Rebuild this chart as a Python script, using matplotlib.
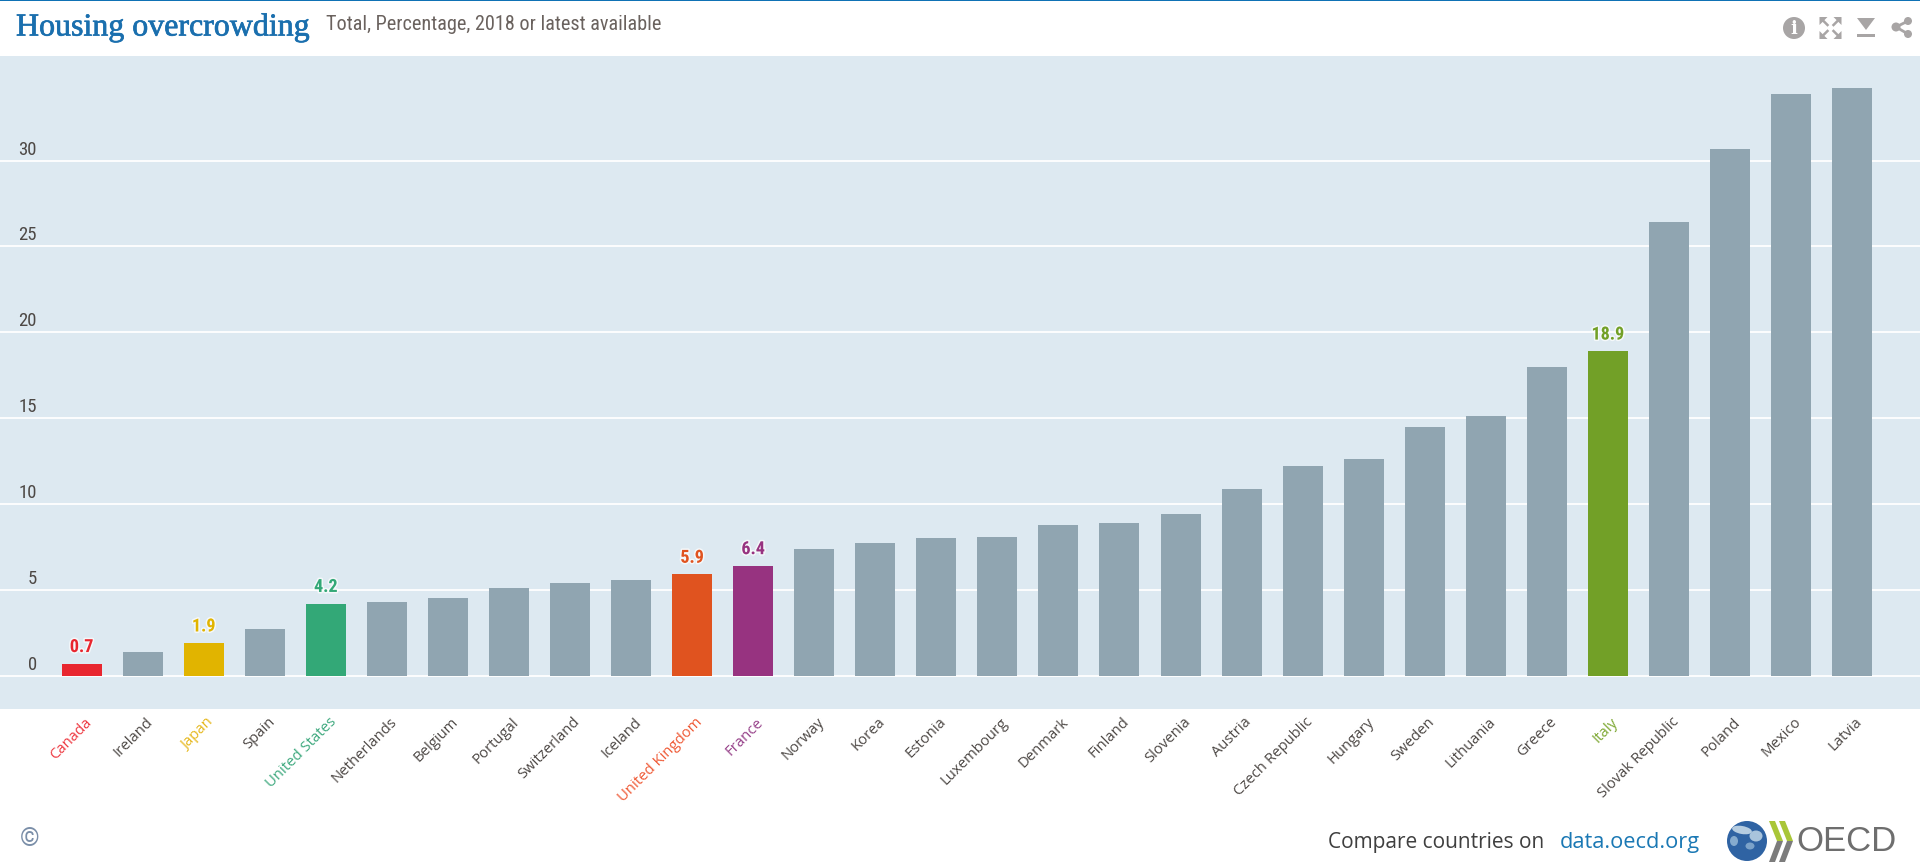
from matplotlib import pyplot as plt
from matplotlib import font_manager as fm
from matplotlib.patches import Circle, Polygon, Rectangle, Ellipse
from matplotlib.transforms import ScaledTranslation
import matplotlib.patheffects as pe


def pick_font(*names):
    # first installed family wins
    for name in names:
        try:
            fm.findfont(name, fallback_to_default=False)
            return name
        except ValueError:
            pass
    return 'DejaVu Sans'


narrow = pick_font('Liberation Sans Narrow', 'Roboto Condensed', 'Liberation Sans')
label_font = pick_font('Open Sans', 'Noto Sans')
title_font = pick_font('Liberation Serif')

countries = ['Canada', 'Ireland', 'Japan', 'Spain', 'United States', 'Netherlands', 'Belgium',
             'Portugal', 'Switzerland', 'Iceland', 'United Kingdom', 'France', 'Norway', 'Korea',
             'Estonia', 'Luxembourg', 'Denmark', 'Finland', 'Slovenia', 'Austria', 'Czech Republic',
             'Hungary', 'Sweden', 'Lithuania', 'Greece', 'Italy', 'Slovak Republic', 'Poland',
             'Mexico', 'Latvia']
values = [0.7, 1.4, 1.9, 2.7, 4.2, 4.3, 4.5, 5.1, 5.4, 5.6, 5.9, 6.4, 7.4, 7.7, 8.0, 8.1, 8.8,
          8.9, 9.4, 10.9, 12.2, 12.6, 14.5, 15.1, 18.0, 18.9, 26.4, 30.7, 33.9, 34.2]
yticks = [0, 5, 10, 15, 20, 25, 30]

highlight = {'Canada': '#e8262f', 'Japan': '#e1b400', 'United States': '#33a877',
             'United Kingdom': '#e0531f', 'France': '#973380', 'Italy': '#72a027'}
text_highlight = {'Canada': '#ee3b43', 'Japan': '#e6b81e', 'United States': '#3fa97f',
                  'United Kingdom': '#ef5a36', 'France': '#97428a', 'Italy': '#7da832'}
BAR_GREY = '#90a5b1'
TEXT_GREY = '#4d4845'

W, H = 1920, 866
fig = plt.figure(figsize=(W / 100, H / 100), dpi=100, facecolor='white')

# panel spans the full width, y 56..709 px
ax = fig.add_axes([0, 1 - 709 / H, 1, (709 - 56) / H], facecolor='#dde9f1')
xpos = list(range(len(countries)))
ax.set_xlim(-81.6 / 61.05, (W - 81.6) / 61.05)
ax.set_ylim((675.7 - 709) / 17.17, (675.7 - 56) / 17.17)

colors = [highlight.get(c, BAR_GREY) for c in countries]
ax.bar(xpos, values, width=40 / 61.05, color=colors, zorder=3)

ax.set_yticks(yticks)
ax.grid(axis='y', color='white', linewidth=1.3, zorder=1)
ax.set_axisbelow(True)
for side in ax.spines.values():
    side.set_visible(False)

ax.tick_params(axis='y', length=0, pad=0, labelsize=13.5, labelcolor=TEXT_GREY)
y_shift = ScaledTranslation(37 / 100, 6 / 100, fig.dpi_scale_trans)
for lab in ax.get_yticklabels():
    lab.set_fontfamily(narrow)
    lab.set_verticalalignment('baseline')
    lab.set_transform(lab.get_transform() + y_shift)

ax.set_xticks(xpos)
ax.set_xticklabels(countries, rotation=45, ha='right', va='center', rotation_mode='anchor',
                   fontsize=10.7, fontfamily=label_font)
ax.tick_params(axis='x', length=0, pad=0)
x_shift = ScaledTranslation(8 / 100, -11 / 100, fig.dpi_scale_trans)
for lab, c in zip(ax.get_xticklabels(), countries):
    lab.set_color(text_highlight.get(c, TEXT_GREY))
    lab.set_transform(lab.get_transform() + x_shift)

# value labels only on the highlighted countries
for x, v, c in zip(xpos, values, countries):
    if c in highlight:
        ax.annotate(f'{v:.1f}', (x, v), xytext=(0, 5.5), textcoords='offset points', ha='center',
                    va='bottom', color=highlight[c], fontsize=13, fontweight='bold',
                    fontfamily=narrow, zorder=5,
                    path_effects=[pe.withStroke(linewidth=2.2, foreground='white', alpha=0.7)])

# header, footer and logo on a pixel-sized overlay
ov = fig.add_axes([0, 0, 1, 1], facecolor='none')
ov.set_xlim(0, W)
ov.set_ylim(H, 0)
ov.axis('off')

ov.add_patch(Rectangle((0, 0), W, 1.3, color='#0f72b5', lw=0))
ov.text(16, 35.5, 'Housing overcrowding', color='#1a6fae', fontsize=23, fontfamily=title_font,
        va='baseline', path_effects=[pe.withStroke(linewidth=0.5, foreground='#1a6fae')])
ov.text(326, 30, 'Total, Percentage, 2018 or latest available', color='#6a625e', fontsize=14.6,
        fontfamily=narrow, va='baseline')

# toolbar icons
ICON = '#a8a5a5'
ov.add_patch(Circle((1794, 28), 11, color=ICON, lw=0))
ov.text(1794, 28.5, 'i', color='white', fontsize=13, fontweight='bold', ha='center', va='center',
        fontfamily='DejaVu Serif')
for sx, sy in [(-1, -1), (1, -1), (-1, 1), (1, 1)]:
    cx, cy = 1830.5 + sx * 11, 28 + sy * 11
    ov.add_patch(Polygon([(cx, cy), (cx - sx * 8, cy), (cx, cy - sy * 8)], color=ICON, lw=0))
    ov.plot([cx - sx * 2, cx - sx * 8], [cy - sy * 2, cy - sy * 8], color=ICON, lw=1.8)
ov.add_patch(Polygon([(1857, 18), (1875, 18), (1866, 30)], color=ICON, lw=0))
ov.add_patch(Rectangle((1857, 34), 18, 3, color=ICON, lw=0))
ov.plot([1908, 1896, 1908], [21, 27, 34], color=ICON, lw=2)
for px, py, r in [(1908, 21, 4), (1896, 27, 4.5), (1908, 34, 4)]:
    ov.add_patch(Circle((px, py), r, color=ICON, lw=0))

ov.text(20, 846, '©', color='#7a8ea8', fontsize=18, fontfamily=narrow, va='baseline')

ov.text(1328, 848, 'Compare countries on', color='#3f3f3f', fontsize=15, fontfamily=label_font,
        va='baseline')
ov.text(1560, 848, 'data.oecd.org', color='#1a78b4', fontsize=15.7, fontfamily=label_font,
        va='baseline')

# logo
ov.add_patch(Circle((1747, 841), 20, color='#2f63a3', lw=0))
ov.add_patch(Ellipse((1742, 830), 20, 8, angle=10, color='#b5cce0', lw=0))
ov.add_patch(Ellipse((1756, 836), 13, 11, color='#a9c4dc', lw=0))
ov.add_patch(Ellipse((1734, 841), 8, 10, color='#86abce', lw=0))
ov.add_patch(Ellipse((1750, 846), 9, 7, color='#7ba2c9', lw=0))
for off in (0, 10):
    ov.add_patch(Polygon([(1769 + off, 821), (1775 + off, 821), (1783 + off, 841), (1777 + off, 841)],
                         color='#a9c638', lw=0))
    ov.add_patch(Polygon([(1777 + off, 841), (1783 + off, 841), (1775 + off, 862), (1769 + off, 862)],
                         color='#7c7c7c', lw=0))
ov.text(1796, 851, 'OECD', color='#6e6e6e', fontsize=25, fontfamily='Liberation Sans', va='baseline')

fig.savefig('out.png', dpi=100)
